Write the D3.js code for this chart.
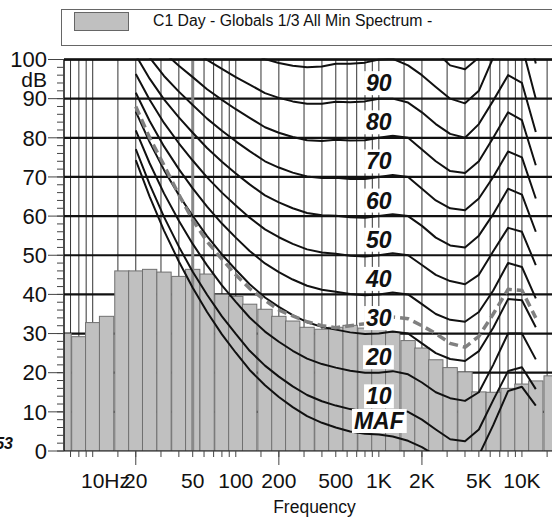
<!DOCTYPE html>
<html><head><meta charset="utf-8">
<script src="https://cdn.jsdelivr.net/npm/d3@7/dist/d3.min.js"></script>
<style>
body{margin:0;background:#fff}
svg{display:block;font-family:"Liberation Sans",Arial,Helvetica,sans-serif}
</style></head>
<body><svg id="chart" width="552" height="517"></svg>
<script>
// ---------- DATA ----------
const legendLabel = "C1 Day - Globals 1/3 All Min Spectrum -";
const bandCenters = [6.3,8,10,12.5,16,20,25,31.5,40,50,63,80,100,125,160,200,250,315,400,500,630,800,1000,1250,1600,2000,2500,3150,4000,5000,6300,8000,10000,12500,16000];
const bandLevels  = [30.0,29.2,32.8,34.4,46.0,46.0,46.4,45.7,44.6,46.4,45.2,40.0,39.5,37.5,36.2,34.4,33.2,31.6,31.1,31.6,32.1,31.4,31.1,30.3,28.2,26.3,23.3,21.3,20.2,15.1,15.0,16.0,17.1,17.9,19.2];

const curveFreqs = [20,25,31.5,40,50,63,80,100,125,160,200,250,315,400,500,630,800,1000,1250,1600,2000,2500,3150,4000,5000,6300,8000,10000,12500];
const contourMAF = [74.3,65.0,56.3,48.4,41.7,35.5,29.8,25.1,20.7,16.8,13.8,11.2,8.9,7.2,6.0,5.0,4.4,4.2,3.7,2.6,1.0,-1.2,-3.6,-3.9,-1.1,6.6,15.3,16.4,11.6];
const contour10  = [77.1,68.1,59.8,52.2,45.8,39.9,34.4,29.9,25.6,21.8,19.0,16.5,14.3,12.7,11.6,10.7,10.1,10,10.4,10,8,5.5,3,2.5,5.5,13,20.4,21.4,15.8];
const contour20  = [81.9,73.5,65.8,58.8,52.9,47.4,42.3,38.1,34.1,30.5,27.9,25.6,23.6,22.2,21.3,20.5,20.0,20,20.4,19.6,17.5,15,13.5,12.8,15,22,30,30,23.4];
const contour30  = [86.7,78.9,71.8,65.4,60,54.9,50.2,46.3,42.6,39.2,36.8,34.7,32.9,31.7,31,30.3,29.9,30,30.5,30,27.5,25,23.5,23,25.5,31.5,38.8,38.5,31.6];
const contour40  = [91.5,84.3,77.8,72,67.1,62.4,58.1,54.5,51.1,47.9,45.7,43.8,42.2,41.2,40.7,40.1,39.8,40,40.5,40,37.5,35,33.5,33,35.5,41,48,47,39];
const contour50  = [96.3,89.7,83.8,78.6,74.2,69.9,66,62.7,59.6,56.6,54.6,52.9,51.5,50.7,50.4,49.9,49.7,50,50.5,50,47.5,45,43.4,42.6,45,51,57,56,47.5];
const contour60  = [101.1,95.1,89.8,85.2,81.3,77.4,73.9,70.9,68.1,65.3,63.5,62,60.8,60.2,60.1,59.7,59.6,60,60.5,60,57.5,54.5,52.5,52,55,60.5,67,65.5,56];
const contour70  = [105.9,100.5,95.8,91.8,88.4,84.9,81.8,79.1,76.6,74,72.4,71.1,70.1,69.7,69.8,69.5,69.5,70,70.5,70,67,64,62,61.5,64.5,70,76.5,75,64.5];
const contour80  = [110.7,105.9,101.8,98.4,95.5,92.4,89.7,87.3,85.1,82.7,81.3,80.2,79.4,79.2,79.5,79.3,79.4,80,80.5,80,77,74,71.5,71,74,80,86.5,84.5,73];
const contour90  = [115.5,111.3,107.8,105,102.6,99.9,97.6,95.5,93.6,91.4,90.2,89.3,88.7,88.7,89.2,89.1,89.3,90,90,89,86.5,83.5,81,80,83.5,89.5,96,94,81.5];
const contour100 = [120.3,116.7,113.8,111.6,109.7,107.4,105.5,103.7,102.1,100.1,99.1,98.4,98,98.2,98.9,98.9,99.2,100,100.2,98.5,96,93,90,88.8,92,100.5,105.5,103.5,90];
const contour110 = [125,121.5,119,117,115.5,113.5,112,110.5,109,107.5,107,107,107,107.5,108.5,108.5,109,110,110.5,109,106,102,98.5,97.5,100.5,109,115,113,99];
const dashedLevels = [88,80,73,65.5,59,53.5,49,45,41.5,38.5,36,34.5,33,32,31.5,32,32.5,33.5,34.2,33.8,32,30,27.5,26.5,29.3,35,41.3,41,34];

const contourLabels = ["MAF","10","20","30","40","50","60","70","80","90"];
const contourLabelLevels = [4.2,10,20,30,40,50,60,70,80,90];

const xGridTicks = [7,8,9,10,15,20,30,40,50,60,70,80,90,100,150,200,300,400,500,600,700,800,900,1000,1500,2000,3000,4000,5000,6000,7000,8000,9000,10000,15000];
const xMajorTicks = [20,200,2000];
const xLabelTicks = [10,20,50,100,200,500,1000,2000,5000,10000];
const xLabelTexts = ["10Hz","20","50","100","200","500","1K","2K","5K","10K"];
const yLabelTicks = [0,10,20,30,40,50,60,70,80,90,100];
const yMinorTicks = d3.range(0,101,2);
const markerFreq = 50;

// ---------- LAYOUT ----------
const svg = d3.select("#chart");
const L = 64, R = 565, T = 59.5, B = 451;
const x = d3.scaleLog().domain([6.3, 20000]).range([L, R]);
const y = d3.scaleLinear().domain([0, 100]).range([B, T]);

svg.append("rect").attr("width",552).attr("height",517).attr("fill","#fff");

// legend
const lg = svg.append("g");
lg.append("rect").attr("x",61.5).attr("y",9.5).attr("width",560).attr("height",36)
  .attr("fill","#fff").attr("stroke","#666").attr("stroke-width",1);
lg.append("rect").attr("x",74.5).attr("y",12.5).attr("width",54).attr("height",18)
  .attr("fill","#c0c0c0").attr("stroke","#666").attr("stroke-width",1);
lg.append("text").attr("x",153).attr("y",26).attr("font-size",15.8).attr("fill","#111").text(legendLabel);

const defs = svg.append("defs");
defs.append("clipPath").attr("id","plotclip").append("rect")
  .attr("x",L).attr("y",T-1).attr("width",R-L).attr("height",B-T+1);

const plot = svg.append("g").attr("clip-path","url(#plotclip)");

// vertical grid
plot.selectAll("line.vg").data(xGridTicks).join("line")
  .attr("x1",d=>x(d)).attr("x2",d=>x(d)).attr("y1",T).attr("y2",B)
  .attr("stroke","#333").attr("stroke-width",1);
// horizontal grid
plot.selectAll("line.hg").data(yLabelTicks.filter(v=>v>0)).join("line")
  .attr("x1",L).attr("x2",R).attr("y1",d=>y(d)).attr("y2",d=>y(d))
  .attr("stroke","#111").attr("stroke-width",2.2);

// bars
const edge = 1/20;
plot.selectAll("rect.bar").data(bandCenters).join("rect")
  .attr("x",(d)=>x(d*Math.pow(10,-edge)))
  .attr("width",(d)=>x(d*Math.pow(10,edge))-x(d*Math.pow(10,-edge)))
  .attr("y",(d,i)=>y(bandLevels[i]))
  .attr("height",(d,i)=>y(0)-y(bandLevels[i]))
  .attr("fill","#c0c0c0").attr("stroke","#707070").attr("stroke-width",1);

// marker line
plot.append("line").attr("x1",x(markerFreq)).attr("x2",x(markerFreq)).attr("y1",T).attr("y2",B)
  .attr("stroke","#888").attr("stroke-width",3);

// contours
const contours = [contourMAF,contour10,contour20,contour30,contour40,contour50,contour60,contour70,contour80,contour90,contour100,contour110];
const line = d3.line().x((d,i)=>x(curveFreqs[i])).y(d=>y(d));
plot.selectAll("path.ct").data(contours).join("path")
  .attr("d",line).attr("fill","none").attr("stroke","#111").attr("stroke-width",2)
  .attr("stroke-linejoin","round");

// dashed curve
plot.append("path").attr("d",line(dashedLevels)).attr("fill","none")
  .attr("stroke","#808080").attr("stroke-width",3.5).attr("stroke-dasharray","9,5");

// contour labels
const lab = svg.append("g");
contourLabels.forEach((t,i)=>{
  const g = lab.append("g");
  const by = t==="MAF" ? 429 : y(contourLabelLevels[i]) - 7.5;
  const tx = g.append("text").attr("x",x(1000)).attr("y",by).attr("text-anchor","middle")
    .attr("font-size",23).attr("font-weight","bold").attr("font-style","italic").attr("fill","#111").text(t);
  const bb = tx.node().getBBox();
  g.insert("rect","text").attr("x",bb.x-2).attr("y",bb.y+1).attr("width",bb.width+4).attr("height",bb.height-2).attr("fill","#fff");
});

// axes
const ax = svg.append("g");
ax.append("line").attr("x1",L).attr("x2",L).attr("y1",T).attr("y2",B).attr("stroke","#111").attr("stroke-width",1.5);
ax.append("line").attr("x1",L).attr("x2",R).attr("y1",B).attr("y2",B).attr("stroke","#111").attr("stroke-width",1.2);
ax.append("line").attr("x1",L).attr("x2",R).attr("y1",T).attr("y2",T).attr("stroke","#111").attr("stroke-width",2.5);
// y ticks
ax.selectAll("line.ymin").data(yMinorTicks).join("line")
  .attr("x1",L-7).attr("x2",L).attr("y1",d=>y(d)).attr("y2",d=>y(d)).attr("stroke","#444").attr("stroke-width",1);
ax.selectAll("line.ymaj").data(yLabelTicks).join("line")
  .attr("x1",L-16).attr("x2",L).attr("y1",d=>y(d)).attr("y2",d=>y(d)).attr("stroke","#444").attr("stroke-width",1);
ax.selectAll("text.yl").data(yLabelTicks).join("text")
  .attr("x",L-17).attr("y",d=>y(d)).attr("dy","0.35em").attr("text-anchor","end")
  .attr("font-size",22).attr("fill","#111").text(d=>d);
ax.append("text").attr("x",L-17).attr("y",y(94.9)).attr("dy","0.35em").attr("text-anchor","end")
  .attr("font-size",21).attr("fill","#111").text("dB");
// x ticks
ax.selectAll("line.xmin").data(xGridTicks).join("line")
  .attr("x1",d=>x(d)).attr("x2",d=>x(d)).attr("y1",B).attr("y2",B+6).attr("stroke","#444").attr("stroke-width",1);
ax.selectAll("line.xmaj").data(xMajorTicks).join("line")
  .attr("x1",d=>x(d)).attr("x2",d=>x(d)).attr("y1",B).attr("y2",B+14).attr("stroke","#444").attr("stroke-width",1);
ax.selectAll("text.xl").data(xLabelTicks).join("text")
  .attr("x",d=>x(d)).attr("y",B+37)
  .attr("text-anchor",(d,i)=>i===0?"start":"middle")
  .attr("dx",(d,i)=>i===0?-11.7:0)
  .attr("font-size",21).attr("fill","#111").text((d,i)=>xLabelTexts[i]);
svg.append("text").attr("x",(L+R)/2).attr("y",B+62).attr("text-anchor","middle")
  .attr("font-size",17.5).attr("fill","#111").text("Frequency");
svg.append("text").attr("x",13).attr("y",449).attr("text-anchor","end")
  .attr("font-size",16).attr("font-weight","bold").attr("font-style","italic").attr("fill","#111").text("53");
</script></body></html>
